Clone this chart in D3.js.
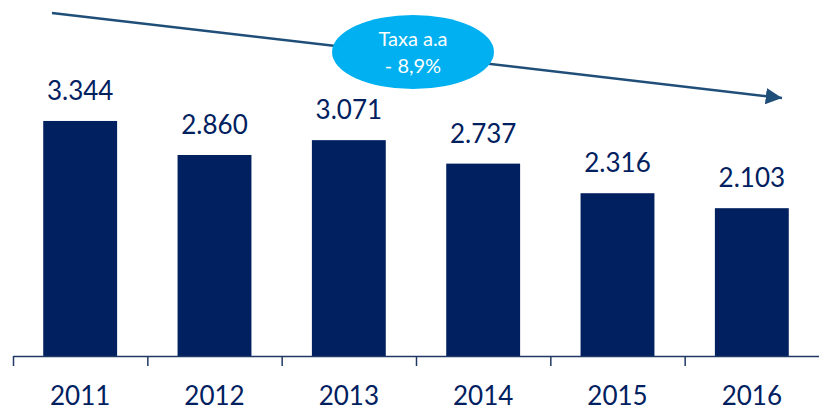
<!DOCTYPE html>
<html>
<head>
<meta charset="utf-8">
<script src="https://cdn.jsdelivr.net/npm/d3@7"></script>
<style>
  body { margin: 0; background: #fff; }
  text { font-family: Lato, "Open Sans", sans-serif; }
</style>
</head>
<body>
<svg id="chart" width="819" height="411"></svg>
<script>
      var years  = ["2011", "2012", "2013", "2014", "2015", "2016"];
      var values = [3344, 2860, 3071, 2737, 2316, 2103];
      var valueLabels = ["3.344", "2.860", "3.071", "2.737", "2.316", "2.103"];
      var rateText = ["Taxa a.a", "- 8,9%"];

      var bar = d3.select("#chart");
      var svgWidth  = 819;
      var svgHeight = 411;
      var margin    = {top: 10, bottom: 55, left: 13, right: 0};
      var baseY     = svgHeight - margin.bottom;   // 356

      var navy = "#002060";

      // scales
      var xScale = d3.scaleBand().domain(years)
                     .range([margin.left, svgWidth - margin.right])
                     .paddingInner(0.45).paddingOuter(0.225);
      var edgeScale = d3.scaleLinear().domain([0, years.length])
                     .range([margin.left, svgWidth - margin.right]);
      var yScale = d3.scaleLinear().domain([0, 3500]).range([baseY, baseY - 246]);

      // bars
      bar.selectAll("rect.bar").data(values).enter().append("rect")
         .attr("class", "bar")
         .attr("x", function(d, i) { return xScale(years[i]); })
         .attr("y", function(d) { return yScale(d); })
         .attr("width", xScale.bandwidth())
         .attr("height", function(d) { return baseY - yScale(d); })
         .style("fill", navy);

      // value labels
      bar.selectAll("text.val").data(values).enter().append("text")
         .attr("class", "val")
         .attr("x", function(d, i) { return xScale(years[i]) + xScale.bandwidth()/2; })
         .attr("y", function(d) { return yScale(d) - 21; })
         .text(function(d, i) { return valueLabels[i]; })
         .style("font-size", "26px").style("fill", navy).style("text-anchor", "middle");

      // axis with ticks between categories
      var axis = bar.append("g")
         .attr("transform", "translate(0," + baseY + ")")
         .call(d3.axisBottom(edgeScale).tickValues(d3.range(0, years.length))
                 .tickFormat("").tickSize(10).tickSizeOuter(0));
      axis.select(".domain").style("stroke", "#1f3864").style("stroke-width", "1.5");
      axis.selectAll(".tick line").style("stroke", "#1f3864").style("stroke-width", "1.5");

      // year labels
      bar.selectAll("text.year").data(years).enter().append("text")
         .attr("class", "year")
         .attr("x", function(d) { return xScale(d) + xScale.bandwidth()/2; })
         .attr("y", 405)
         .text(function(d) { return d; })
         .style("font-size", "26px").style("fill", navy).style("text-anchor", "middle");

      // trend arrow
      bar.append("defs").append("marker")
         .attr("id", "head").attr("viewBox", "0 0 10 10")
         .attr("refX", 10).attr("refY", 5)
         .attr("markerWidth", 6.5).attr("markerHeight", 6.5)
         .attr("markerUnits", "strokeWidth")
         .attr("orient", "auto")
         .append("path").attr("d", "M0,0 L10,5 L0,10 Z").style("fill", "#1f4e79");
      bar.append("line")
         .attr("x1", 52).attr("y1", 13).attr("x2", 782).attr("y2", 98)
         .style("stroke", "#1f4e79").style("stroke-width", "2.5")
         .attr("marker-end", "url(#head)");

      // rate bubble
      bar.append("ellipse")
         .attr("cx", 413).attr("cy", 52).attr("rx", 81).attr("ry", 37)
         .style("fill", "#00b0f0");
      bar.selectAll("text.rate").data(rateText).enter().append("text")
         .attr("class", "rate")
         .attr("x", 413)
         .attr("y", function(d, i) { return 46 + i*27; })
         .text(function(d) { return d; })
         .style("font-size", "20px").style("fill", "#fff").style("text-anchor", "middle");
</script>
</body>
</html>
